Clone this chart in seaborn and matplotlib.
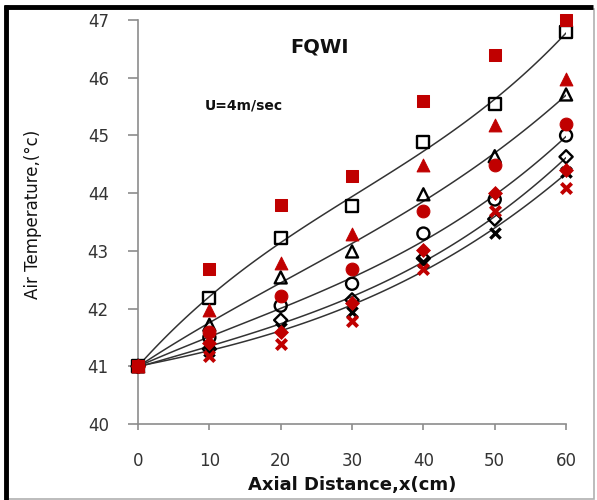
import numpy as np
import pandas as pd
import seaborn as sns
import matplotlib
matplotlib.use("Agg")
import matplotlib.pyplot as plt
from matplotlib.lines import Line2D
from matplotlib.patches import Rectangle

x = [0, 10, 20, 30, 40, 50, 60]

# red (filled) series - no fit line
red_square = [41.0, 42.69, 43.79, 44.29, 45.60, 46.40, 47.00]
red_triangle = [41.0, 41.98, 42.79, 43.30, 44.49, 45.18, 45.98]
red_circle = [41.0, 41.59, 42.21, 42.69, 43.69, 44.49, 45.19]
red_diamond = [41.0, 41.40, 41.59, 42.10, 43.01, 44.00, 44.40]
red_x = [41.0, 41.17, 41.39, 41.79, 42.69, 43.69, 44.09]

# black (open) series - with polynomial trend lines
blk_square = [41.0, 42.19, 43.23, 43.77, 44.89, 45.55, 46.79]
blk_triangle = [41.0, 41.72, 42.54, 42.99, 43.98, 44.64, 45.71]
blk_circle = [41.0, 41.50, 42.05, 42.43, 43.30, 43.89, 45.00]
blk_diamond = [41.0, 41.30, 41.80, 42.15, 42.87, 43.55, 44.63]
blk_x = [41.0, 41.27, 41.66, 41.94, 42.80, 43.31, 44.36]

xticks = [0, 10, 20, 30, 40, 50, 60]
yticks = [40, 41, 42, 43, 44, 45, 46, 47]

RED = "#C00000"
sns.set_style("white")
plt.rcParams['font.family'] = ['DejaVu Sans']

fig = plt.figure(figsize=(5.97, 5.00), dpi=100)
ax = fig.add_axes([0.2312, 0.152, 0.717, 0.808])

# trend lines
for ys in [blk_square, blk_triangle, blk_circle, blk_diamond, blk_x]:
    sns.regplot(x=x, y=ys, order=3, ci=None, scatter=False, ax=ax,
                line_kws=dict(color="#333333", lw=1.1))

ms = 75
open_kw = dict(facecolors="none", edgecolors="black", linewidth=1.7, s=ms, zorder=4, clip_on=False)
sns.scatterplot(x=x, y=blk_square, marker="s", ax=ax, **open_kw)
sns.scatterplot(x=x, y=blk_triangle, marker="^", ax=ax, **open_kw)
sns.scatterplot(x=x, y=blk_circle, marker="o", ax=ax, **open_kw)
sns.scatterplot(x=x, y=blk_diamond, marker="D", ax=ax, facecolors="none", edgecolors="black",
                linewidth=1.7, s=45, zorder=4, clip_on=False)
sns.scatterplot(x=x, y=blk_x, marker="x", ax=ax, color="black", linewidth=2.4, s=55, zorder=4,
                clip_on=False)

fill_kw = dict(color=RED, edgecolor=RED, s=85, zorder=5, clip_on=False)
sns.scatterplot(x=x, y=red_square, marker="s", ax=ax, **fill_kw)
sns.scatterplot(x=x, y=red_triangle, marker="^", ax=ax, **fill_kw)
sns.scatterplot(x=x, y=red_circle, marker="o", ax=ax, **fill_kw)
sns.scatterplot(x=x, y=red_diamond, marker="D", ax=ax, color=RED, edgecolor=RED, s=50, zorder=5,
                clip_on=False)
sns.scatterplot(x=x, y=red_x, marker="x", ax=ax, color=RED, linewidth=2.8, s=55, zorder=5,
                clip_on=False)

ax.set_xlim(0, 60)
ax.set_ylim(40, 47)
ax.set_xticks(xticks)
ax.set_yticks(yticks)
ax.set_xticklabels([str(t) for t in xticks])
ax.set_yticklabels([str(t) for t in yticks])
for sp in ["top", "right"]:
    ax.spines[sp].set_visible(False)
for sp in ["left", "bottom"]:
    ax.spines[sp].set_color("#8c8c8c")
    ax.spines[sp].set_linewidth(1.2)
ax.tick_params(axis="y", direction="out", length=7, width=1.2, color="#8c8c8c",
               pad=14, labelsize=12, labelcolor="#333333", left=True)
ax.tick_params(axis="x", direction="out", length=4.5, width=1.2, color="#8c8c8c",
               pad=16, labelsize=12, labelcolor="#333333", bottom=True)
ax.set_xlabel("")
ax.set_ylabel("")
ax.grid(False)

ax.text(25.5, 46.53, "FQWI", fontsize=14, fontweight="bold", ha="center", va="center", color="#111111")
ax.text(9.4, 45.51, "U=4m/sec", fontsize=10, fontweight="bold", ha="left", va="center", color="#111111")

fig.text(352/597, 1 - 485/500, "Axial Distance,x(cm)", fontsize=13, fontweight="bold",
         ha="center", va="center", color="#111111")
fig.text(33/597, 1 - 214/500, "Air Temperature,(°c)", fontsize=12, rotation=90,
         ha="center", va="center", color="#111111")

# frame around the figure
fig.add_artist(Rectangle((8/597, 1.5/500), (594-8)/597, (491-1.5)/500,
                         transform=fig.transFigure, fill=False, edgecolor="#b0b0b0", lw=1.2))
fig.add_artist(Line2D([6/597, 6/597], [0, 1 - 5/500], transform=fig.transFigure,
                      color="black", lw=3.5, solid_capstyle="butt"))
fig.add_artist(Line2D([4/597, 593/597], [1 - 7/500, 1 - 7/500], transform=fig.transFigure,
                      color="black", lw=3.5, solid_capstyle="butt"))

fig.savefig("out.png", dpi=100)
